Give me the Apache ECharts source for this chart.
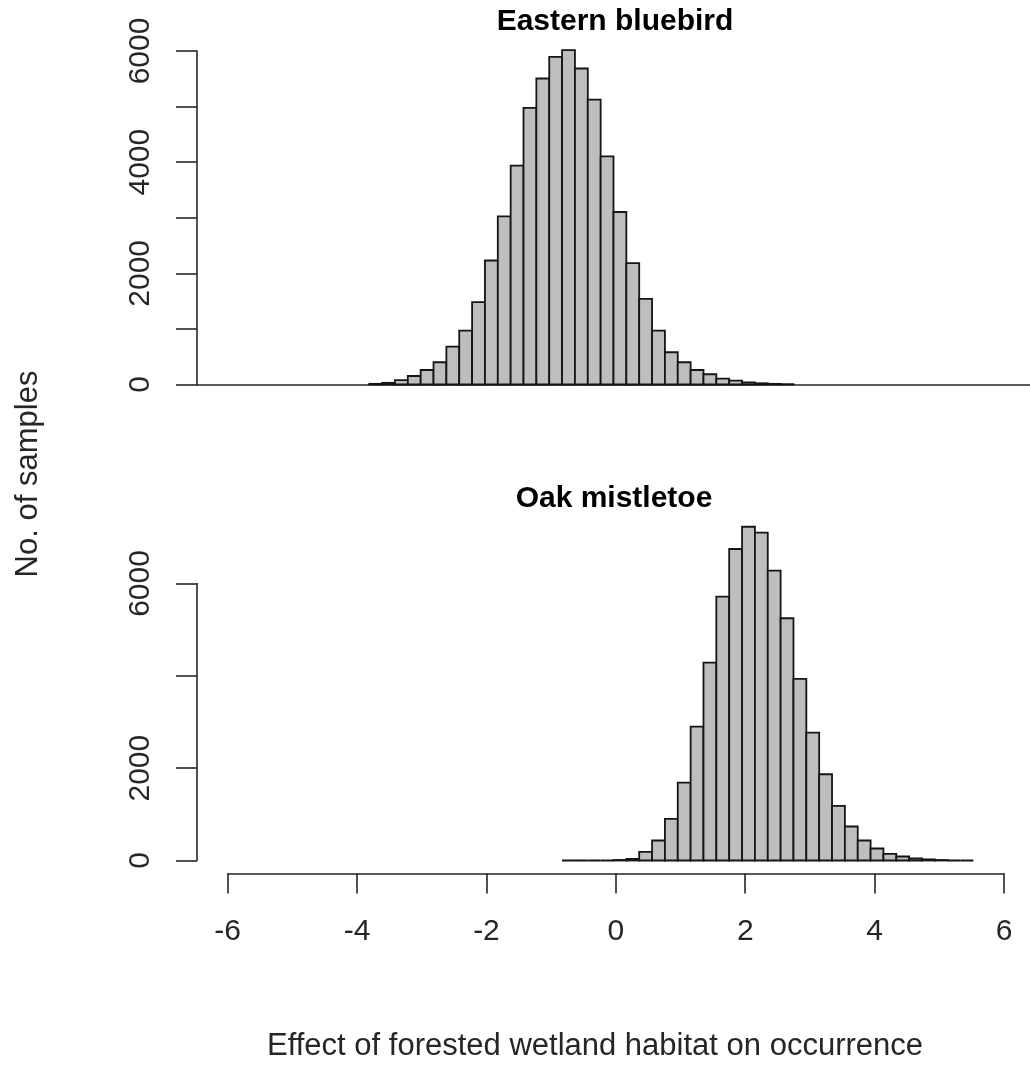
<!DOCTYPE html>
<html>
<head>
<meta charset="utf-8">
<script src="https://cdn.jsdelivr.net/npm/echarts/dist/echarts.min.js"></script>
<style>
  html, body { margin: 0; padding: 0; background: #ffffff; }
  #chart { width: 1030px; height: 1065px; }
</style>
</head>
<body>
<div id="chart"></div>
<script>
// Posterior samples of the forested-wetland effect, binned at width 0.2
const binWidth = 0.2;

const bluebirdTitle = 'Eastern bluebird';
const bluebirdFirstBin = -3.8;
const bluebirdCounts = [
  12, 30, 80, 153, 261, 400, 681, 970, 1481, 2231, 3024, 3937, 4976, 5505,
  5895, 6015, 5685, 5126, 4105, 3103, 2184, 1541, 970, 580, 400, 261, 184,
  105, 68, 38, 22, 12, 6
];
const bluebirdYLabels = [0, 2000, 4000, 6000];

const mistletoeTitle = 'Oak mistletoe';
const mistletoeFirstBin = -0.8;
const mistletoeCounts = [
  0, 0, 0, 0, 12, 35, 188, 433, 903, 1688, 2900, 4286, 5714, 6747, 7229,
  7100, 6277, 5247, 3933, 2771, 1868, 1184, 736, 433, 260, 145, 87, 45, 24,
  11, 0, 0
];
const mistletoeYLabels = [0, 2000, 6000];

const xTickValues = [-6, -4, -2, 0, 2, 4, 6];
const xAxisTitle = 'Effect of forested wetland habitat on occurrence';
const yAxisTitle = 'No. of samples';

const FONT = "'Liberation Sans', Arial, sans-serif";
const INK = '#262626';

// [binStart, binEnd, count] rows for the custom bar renderer
function toBins(firstBin, counts) {
  return counts.map((c, i) => {
    const lo = +(firstBin + i * binWidth).toFixed(2);
    const hi = +(lo + binWidth).toFixed(2);
    return [lo, hi, c];
  });
}

function renderBin(params, api) {
  const base = api.coord([api.value(0), 0]);
  const top = api.coord([api.value(1), api.value(2)]);
  return {
    type: 'rect',
    shape: { x: base[0], y: top[1], width: top[0] - base[0], height: base[1] - top[1] },
    style: { fill: '#bebebe', stroke: '#151515', lineWidth: 1.8 }
  };
}

function yAxisFor(gridIndex, interval, shown) {
  return {
    gridIndex, type: 'value', min: 0, max: 6000, interval,
    axisLine: { show: true, onZero: false, lineStyle: { color: INK, width: 1.6 } },
    axisTick: { show: true, length: 21, lineStyle: { color: INK, width: 1.6 } },
    axisLabel: {
      rotate: 90, margin: 41, fontSize: 30, color: INK, fontFamily: FONT,
      formatter: v => (shown.includes(v) ? String(v) : '')
    },
    splitLine: { show: false }
  };
}

const chart = echarts.init(document.getElementById('chart'), null, { renderer: 'canvas' });

chart.setOption({
  animation: false,
  backgroundColor: '#ffffff',
  grid: [
    { left: 197, width: 838, top: 51, height: 333.5 },
    { left: 197, width: 838, top: 583.5, height: 277 },
    { left: 227.7, width: 776.3, top: 600, height: 273.5 }
  ],
  xAxis: [
    { gridIndex: 0, type: 'value', min: -6.48, max: 6.48,
      axisLine: { show: true, onZero: false, lineStyle: { color: INK, width: 1.6 } },
      axisTick: { show: false }, axisLabel: { show: false }, splitLine: { show: false } },
    { gridIndex: 1, type: 'value', min: -6.48, max: 6.48, show: false },
    { gridIndex: 2, type: 'value', min: xTickValues[0], max: xTickValues[xTickValues.length - 1],
      interval: 2,
      axisLine: { show: true, onZero: false, lineStyle: { color: INK, width: 1.6 } },
      axisTick: { show: true, length: 20, lineStyle: { color: INK, width: 1.6 } },
      axisLabel: { margin: 43, fontSize: 30, color: INK, fontFamily: FONT },
      splitLine: { show: false } }
  ],
  yAxis: [
    yAxisFor(0, 1000, bluebirdYLabels),
    yAxisFor(1, 2000, mistletoeYLabels),
    { gridIndex: 2, type: 'value', min: 0, max: 1, show: false }
  ],
  series: [
    { type: 'custom', name: bluebirdTitle, xAxisIndex: 0, yAxisIndex: 0, clip: false,
      renderItem: renderBin, encode: { x: [0, 1], y: 2 },
      data: toBins(bluebirdFirstBin, bluebirdCounts) },
    { type: 'custom', name: mistletoeTitle, xAxisIndex: 1, yAxisIndex: 1, clip: false,
      renderItem: renderBin, encode: { x: [0, 1], y: 2 },
      data: toBins(mistletoeFirstBin, mistletoeCounts) }
  ],
  graphic: [
    { type: 'text', x: 615, y: 22, style: { text: bluebirdTitle, font: `bold 30px ${FONT}`,
      fill: '#000', textAlign: 'center', textVerticalAlign: 'middle' } },
    { type: 'text', x: 614, y: 499, style: { text: mistletoeTitle, font: `bold 30px ${FONT}`,
      fill: '#000', textAlign: 'center', textVerticalAlign: 'middle' } },
    { type: 'text', x: 595, y: 1046, style: { text: xAxisTitle, font: `31px ${FONT}`,
      fill: INK, textAlign: 'center', textVerticalAlign: 'middle' } },
    { type: 'text', x: 28, y: 474, rotation: Math.PI / 2, style: { text: yAxisTitle,
      font: `31px ${FONT}`, fill: INK, textAlign: 'center', textVerticalAlign: 'middle' } }
  ]
});
</script>
</body>
</html>
